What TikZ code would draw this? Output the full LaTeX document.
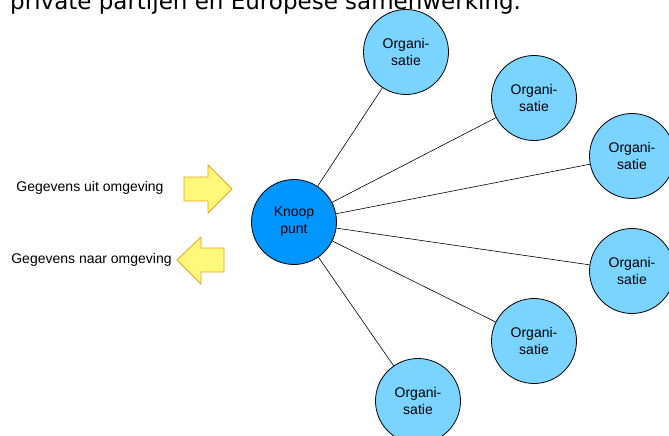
\documentclass[tikz,border=0pt]{standalone}
\usepackage{fontspec}
\setmainfont{Liberation Sans}
\newfontfamily\headfont{DejaVu Sans}
\definecolor{orgblue}{RGB}{122,212,255}
\definecolor{hubblue}{RGB}{0,150,255}
\definecolor{arrowfill}{RGB}{255,248,122}
\definecolor{arrowedge}{RGB}{240,160,30}
\tikzset{
  orgnode/.style={circle, draw=black, line width=0.8pt, fill=orgblue,
    minimum size=85pt, inner sep=0pt, align=center,
    font=\fontsize{14}{17}\selectfont},
  hubnode/.style={orgnode, fill=hubblue},
  link/.style={draw=black, line width=0.6pt},
  flowarrow/.style={draw=arrowedge, fill=arrowfill, line width=0.8pt, line join=miter},
  label/.style={font=\fontsize{14}{17}\selectfont, inner sep=0pt}
}
\begin{document}
\begin{tikzpicture}[x=1pt, y=-1pt]
\useasboundingbox (0,0) rectangle (669,436);
\clip (0,0) rectangle (669,436);
\fill[white] (0,0) rectangle (669,436);

% hub and organisations
\node[hubnode] (hub) at (294,222) {Knoop\\punt};
\node[orgnode] (o1) at (406,52) {Organi-\\satie};
\node[orgnode] (o2) at (534,98) {Organi-\\satie};
\node[orgnode] (o3) at (632,156) {Organi-\\satie};
\node[orgnode] (o4) at (632,271) {Organi-\\satie};
\node[orgnode] (o5) at (534,341) {Organi-\\satie};
\node[orgnode] (o6) at (418,401) {Organi-\\satie};

\foreach \o in {o1,o2,o3,o4,o5,o6}
  \draw[link] (hub) -- (\o);

% data flows in and out
\draw[flowarrow] (184,177) -- (208,177) -- (208,165) -- (232,189) -- (208,213)
  -- (208,201) -- (184,201) -- cycle;
\draw[flowarrow] (224,248) -- (201,248) -- (201,237) -- (177,260) -- (201,284)
  -- (201,272) -- (224,272) -- cycle;
\node[label] (inlabel) at (90,188) {Gegevens uit omgeving};
\node[label] (outlabel) at (91.5,260) {Gegevens naar omgeving};

% heading line, partly above the top edge
\node[anchor=base west, inner sep=0pt, font=\headfont\fontsize{23}{27}\selectfont] (head) at (10,10)
  {private partijen en Europese samenwerking.};
\end{tikzpicture}
\end{document}
